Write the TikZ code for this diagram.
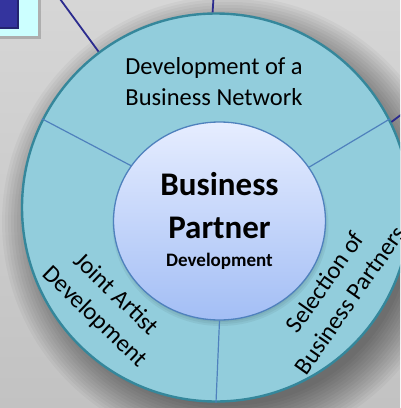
\documentclass[tikz,border=0pt]{standalone}
\usepackage{fontspec}
\setmainfont{Carlito}
\usetikzlibrary{shapes.geometric}

\definecolor{backtop}{HTML}{D6D6D6}
\definecolor{backbot}{HTML}{C2C2C2}
\definecolor{ringfill}{HTML}{92CDDC}
\definecolor{ringline}{HTML}{35879B}
\definecolor{coretop}{HTML}{E6EDFF}
\definecolor{corebot}{HTML}{A3BEF5}
\definecolor{coreline}{HTML}{4F81BD}
\definecolor{linkblue}{HTML}{2B2B8E}
\definecolor{cardcyan}{HTML}{CCFFFF}
\definecolor{carddark}{HTML}{34349E}

\begin{document}
\begin{tikzpicture}[x=1pt,y=-1pt,
    label/.style={font=\fontsize{24.5}{31}\selectfont, align=center, inner sep=0pt},
    divider/.style={coreline, line width=1.2pt},
    link/.style={linkblue, line width=1.8pt}]
  \useasboundingbox (0,0) rectangle (400,408);
  \clip (0,0) rectangle (400,408);
  \shade[top color=backtop, bottom color=backbot] (0,0) rectangle (400,408);

  % box in the corner
  \fill[black, opacity=.18] (-10,-10) rectangle (41,39);
  \node[fill=cardcyan, inner sep=0pt, minimum width=50pt, minimum height=46pt,
        anchor=south east] (card) at (38,36) {};
  \node[fill=carddark, draw=carddark!70!black, line width=1.5pt, inner sep=0pt,
        minimum width=30pt, minimum height=38pt, anchor=south east] (cardfill) at (18.5,28.5) {};

  % soft shadow of the ring
  \foreach \r in {0,3,...,42}
    \fill[black, opacity=.037] (228,222) circle [radius=(184+\r)*1pt];

  \node[circle, fill=ringfill, draw=ringline, line width=2.4pt, inner sep=0pt,
        minimum size=388pt] (ring) at (216,207.5) {};

  \foreach \d in {0,2,4}
    \fill[black, opacity=.05] (220.5,225) ellipse [x radius=(104+\d)*1pt, y radius=(97+\d)*1pt];
  \node[ellipse, draw=coreline, line width=1.3pt, top color=coretop, bottom color=corebot,
        inner sep=0pt, minimum width=212pt, minimum height=198pt, align=center,
        font=\bfseries\fontsize{33}{43}\selectfont] (core) at (219.5,221)
    {Business\\Partner\\[-15pt]{\fontsize{19}{21}\selectfont Development}};

  \draw[divider] (core.148) -- (ring.153);
  \draw[divider] (core.31) -- (ring.27);
  \draw[divider] (core.-90) -- (ring.-90);

  \node[label] (network) at (214,82) {Development of a\\Business Network};
  \node[label, rotate=-44] (joint) at (105,306) {Joint Artist\\Development};
  \node[label, rotate=55] (selection) at (337,291) {Selection of\\Business Partners};

  \coordinate (upleft) at (52,-12);
  \coordinate (up) at (214,-10);
  \coordinate (upright) at (420,100.6);
  \draw[link] (upleft) -- (ring.127.5);
  \draw[link] (up) -- (ring.91);
  \draw[link] (upright) -- (ring.26.6);
\end{tikzpicture}
\end{document}
